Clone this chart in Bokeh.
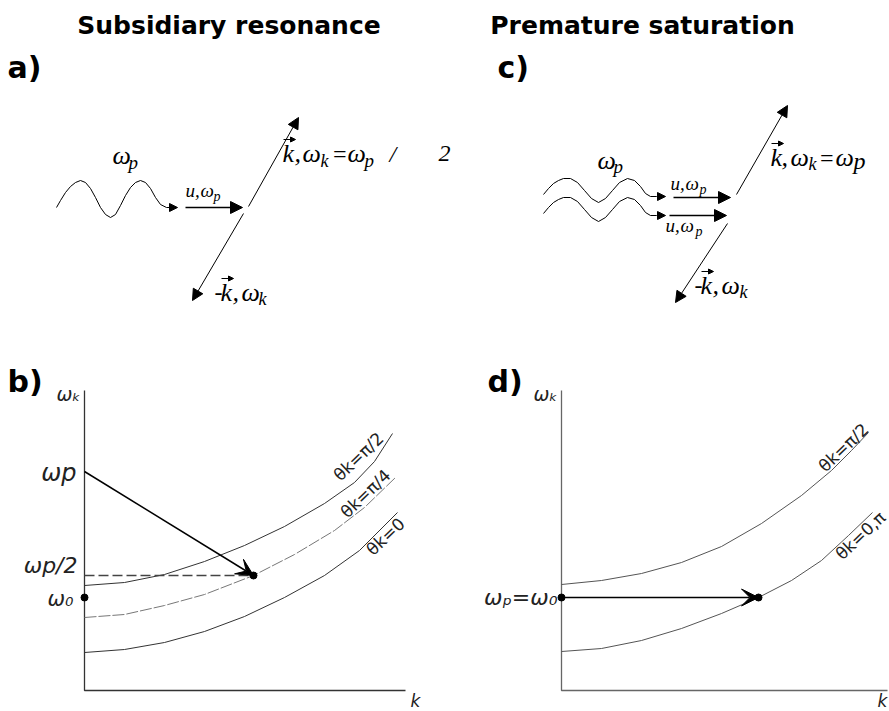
from bokeh.plotting import figure
from bokeh.layouts import gridplot
from bokeh.models import Range1d, Arrow, NormalHead, VeeHead
from bokeh.core.properties import value
from bokeh.embed import file_html
from bokeh.resources import INLINE

# ---------------- data ----------------
titles = ["Subsidiary resonance", "Premature saturation"]
letters = ["a)", "b)", "c)", "d)"]

# panel a: schematic, drawing units (x right, y down)
wave_a_x = [56, 60, 65, 70, 75, 80, 85, 90, 95, 100, 105, 110, 115, 120, 125, 130, 135, 140, 145, 150, 155, 160, 166]
wave_a_y = [207, 200, 192, 186, 182, 180, 182, 188, 197, 207, 214, 217, 214, 205, 195, 187, 182, 180, 182, 188, 197, 204, 207]
arrows_a_x0 = [166, 185, 248, 243]
arrows_a_y0 = [207, 207, 206, 213]
arrows_a_x1 = [177, 242, 298, 192]
arrows_a_y1 = [207, 207, 117, 300]
# label pieces: text, x (left), y (middle), font size px
labels_a = [("ω", 112, 155, 26), ("p", 128, 162, 19),
            ("u,", 185, 190, 19), ("ω", 200, 190, 19), ("p", 213, 196, 14),
            ("k", 282, 153, 26), (",", 294, 153, 26), ("ω", 302, 153, 26), ("k", 320, 160, 18),
            ("=", 331, 153, 24), ("ω", 347, 153, 26), ("p", 364, 160, 19), ("/", 389, 153, 24),
            ("2", 438, 153, 24),
            ("-", 214, 292, 24), ("k", 220, 292, 26), (",", 232, 292, 26), ("ω", 241, 292, 26),
            ("k", 258, 298, 18)]
kvec_a_x0 = [283, 221]
kvec_a_x1 = [295, 233]
kvec_a_y = [139, 278]

# panel c: schematic
wave_c_x = [543, 548, 553, 558, 563, 570, 577, 584, 591, 598, 605, 612, 619, 627, 634, 640, 645, 650, 656]
wave_c1_y = [194, 188, 183, 180, 178, 178, 182, 190, 198, 202, 198, 190, 182, 178, 180, 186, 193, 196, 196]
wave_c2_y = [213, 207, 202, 199, 197, 197, 201, 209, 217, 221, 217, 209, 201, 197, 199, 205, 212, 215, 215]
arrows_c_x0 = [656, 656, 673, 669, 736, 727]
arrows_c_y0 = [196, 215, 197, 215, 194, 223]
arrows_c_x1 = [665, 665, 730, 726, 787, 675]
arrows_c_y1 = [196, 215, 197, 215, 105, 302]
labels_c = [("ω", 597, 160, 26), ("p", 613, 166, 19),
            ("u,", 670, 183, 19), ("ω", 685, 183, 19), ("p", 699, 189, 14),
            ("u,", 665, 225, 19), ("ω", 680, 225, 19), ("p", 695, 231, 14),
            ("k", 770, 157, 26), (",", 781, 157, 26), ("ω", 790, 157, 26), ("k", 808, 163, 18),
            ("=", 818, 157, 24), ("ω", 835, 157, 26), ("p", 853, 160, 24),
            ("-", 694, 285, 24), ("k", 700, 285, 26), (",", 712, 285, 26), ("ω", 721, 285, 26),
            ("k", 739, 291, 18)]
kvec_c_x0 = [771, 701]
kvec_c_x1 = [783, 713]
kvec_c_y = [143, 271]

# panel b: dispersion curves (k, omega)
b_k_pi2 = [0.0, 0.4, 0.8, 1.2, 1.6, 2.0, 2.4, 2.7, 2.9, 3.08]
b_w_pi2 = [1.05, 1.08, 1.16, 1.29, 1.45, 1.64, 1.87, 2.08, 2.29, 2.57]
b_k_pi4 = [0.0, 0.4, 0.8, 1.2, 1.69, 2.1, 2.5, 2.8, 3.11]
b_w_pi4 = [0.73, 0.76, 0.85, 0.96, 1.15, 1.36, 1.60, 1.83, 2.13]
b_k_0 = [0.0, 0.4, 0.8, 1.2, 1.6, 2.0, 2.4, 2.75, 3.13]
b_w_0 = [0.38, 0.41, 0.48, 0.59, 0.74, 0.93, 1.15, 1.40, 1.78]
b_wp, b_wp2, b_w0, b_kres = 2.19, 1.15, 0.93, 1.69
b_curve_labels = ["θk=π/2", "θk=π/4", "θk=0"]
b_curve_label_k = [2.74, 2.81, 3.01]
b_curve_label_w = [2.34, 1.97, 1.54]

# panel d
d_k_pi2 = [0.0, 0.4, 0.8, 1.2, 1.6, 2.0, 2.4, 2.7, 2.9, 3.07]
d_w_pi2 = [1.06, 1.10, 1.17, 1.28, 1.44, 1.67, 1.95, 2.20, 2.40, 2.58]
d_k_0 = [0.0, 0.4, 0.8, 1.2, 1.6, 1.97, 2.3, 2.6, 2.87, 3.11]
d_w_0 = [0.39, 0.42, 0.50, 0.62, 0.77, 0.93, 1.10, 1.30, 1.55, 1.78]
d_w0, d_kres = 0.93, 1.97
d_curve_labels = ["θk=π/2", "θk=0,π"]
d_curve_label_k = [2.82, 2.99]
d_curve_label_w = [2.43, 1.55]

axis_len_k_b = 3.21
axis_len_k_d = 3.26
axis_len_w = 3.0

SERIF = value("Liberation Serif")
SANS = value("DejaVu Sans")


def base_fig(w, h, xr, yr):
    p = figure(width=w, height=h, x_range=Range1d(*xr), y_range=Range1d(*yr),
               output_backend="svg", toolbar_location=None,
               x_axis_location=None, y_axis_location=None, min_border=0,
               outline_line_color=None, background_fill_color="white",
               border_fill_color="white")
    p.xgrid.visible = False
    p.ygrid.visible = False
    return p


def add_arrows(p, x0, y0, x1, y1, widths, sizes):
    for a, b, c, d, lw, s in zip(x0, y0, x1, y1, widths, sizes):
        p.add_layout(Arrow(end=NormalHead(size=s, fill_color="black", line_color="black", line_width=1),
                           x_start=a, y_start=b, x_end=c, y_end=d,
                           line_width=lw, line_color="black"))


def add_pieces(p, items):
    p.text(x=[t[1] for t in items], y=[t[2] for t in items], text=[t[0] for t in items],
           text_font_size=["%dpx" % t[3] for t in items], text_font=SERIF,
           text_font_style="italic", text_align="left", text_baseline="middle",
           text_color="black")


def add_kvec(p, x0s, x1s, ys):
    for a, b, y in zip(x0s, x1s, ys):
        p.add_layout(Arrow(end=NormalHead(size=5, fill_color="black", line_color="black", line_width=1),
                           x_start=a, y_start=y, x_end=b, y_end=y,
                           line_width=1, line_color="black"))


# ---------------- panel a ----------------
pa = base_fig(455, 360, (0, 455), (360, 0))
pa.text(x=[228.5], y=[25], text=[titles[0]], text_font=SANS, text_font_style="bold",
        text_font_size="25px", text_align="center", text_baseline="alphabetic")
pa.text(x=[7], y=[67], text=[letters[0]], text_font=SANS, text_font_style="bold",
        text_font_size="30px", text_align="left", text_baseline="alphabetic")
pa.line(wave_a_x, wave_a_y, line_color="black", line_width=1)
add_arrows(pa, arrows_a_x0, arrows_a_y0, arrows_a_x1, arrows_a_y1,
           [1, 1.5, 1, 1], [8, 12, 11, 11])
add_pieces(pa, labels_a)
add_kvec(pa, kvec_a_x0, kvec_a_x1, kvec_a_y)

# ---------------- panel c ----------------
pc = base_fig(434, 360, (455, 889), (360, 0))
pc.text(x=[642], y=[25], text=[titles[1]], text_font=SANS, text_font_style="bold",
        text_font_size="25px", text_align="center", text_baseline="alphabetic")
pc.text(x=[497], y=[67], text=[letters[2]], text_font=SANS, text_font_style="bold",
        text_font_size="30px", text_align="left", text_baseline="alphabetic")
pc.line(wave_c_x, wave_c1_y, line_color="black", line_width=1)
pc.line(wave_c_x, wave_c2_y, line_color="black", line_width=1)
add_arrows(pc, arrows_c_x0, arrows_c_y0, arrows_c_x1, arrows_c_y1,
           [1, 1, 1.5, 1.5, 1, 1], [8, 8, 12, 12, 11, 11])
add_pieces(pc, labels_c)
add_kvec(pc, kvec_c_x0, kvec_c_x1, kvec_c_y)

# ---------------- panel b ----------------
pb = base_fig(455, 351, (-0.84, 3.71), (-0.21, 3.30))
pb.line([0, 0, axis_len_k_b], [axis_len_w, 0, 0], line_color="#333333", line_width=1.3)
pb.line(b_k_pi2, b_w_pi2, line_color="#333333", line_width=1)
pb.line(b_k_pi4, b_w_pi4, line_color="#777777", line_width=1, line_dash="12 2")
pb.line(b_k_0, b_w_0, line_color="#333333", line_width=1)
pb.line([0, b_kres], [b_wp2, b_wp2], line_color="#444444", line_width=1.5, line_dash="10 4")
pb.add_layout(Arrow(end=VeeHead(size=17, fill_color="black", line_color="black"),
                    x_start=0, y_start=b_wp, x_end=b_kres, y_end=b_wp2,
                    line_width=1.5, line_color="black"))
pb.scatter([b_kres, 0], [b_wp2, b_w0], size=7, color="black")
pb.text(x=[-0.77], y=[3.09], text=[letters[1]], text_font=SANS, text_font_style="bold",
        text_font_size="30px", text_align="left", text_baseline="alphabetic")
pb.text(x=[-0.08, -0.07, -0.11], y=[2.18, 1.25, 0.92], text=["ωp", "ωp/2", "ω₀"],
        text_font=SANS, text_font_style="italic", text_font_size=["24px", "22px", "21px"],
        text_align="right", text_baseline="middle", text_color="#222222")
pb.text(x=[-0.16], y=[2.97], text=["ωₖ"], text_font=SANS, text_font_style="italic",
        text_font_size="19px", text_align="center", text_baseline="middle", text_color="#222222")
pb.text(x=[3.31], y=[-0.10], text=["k"], text_font=SANS, text_font_style="italic",
        text_font_size="17px", text_align="center", text_baseline="middle", text_color="#222222")
pb.text(x=b_curve_label_k, y=b_curve_label_w, text=b_curve_labels, text_font=SANS,
        text_font_size="17px", text_align="center", text_baseline="middle",
        angle=0.76, text_color="#222222")

# ---------------- panel d ----------------
pd_ = base_fig(434, 351, (-1.06, 3.28), (-0.21, 3.30))
pd_.line([0, 0, axis_len_k_d], [axis_len_w, 0, 0], line_color="#666666", line_width=1.3)
pd_.line(d_k_pi2, d_w_pi2, line_color="#555555", line_width=1)
pd_.line(d_k_0, d_w_0, line_color="#555555", line_width=1)
pd_.add_layout(Arrow(end=VeeHead(size=17, fill_color="black", line_color="black"),
                     x_start=0, y_start=d_w0, x_end=d_kres, y_end=d_w0,
                     line_width=1.5, line_color="black"))
pd_.scatter([0, d_kres], [d_w0, d_w0], size=7, color="black")
pd_.text(x=[-0.74], y=[3.09], text=[letters[3]], text_font=SANS, text_font_style="bold",
         text_font_size="30px", text_align="left", text_baseline="alphabetic")
pd_.text(x=[-0.04], y=[0.93], text=["ωₚ=ω₀"], text_font=SANS, text_font_style="italic",
         text_font_size="22px", text_align="right", text_baseline="middle", text_color="#222222")
pd_.text(x=[-0.16], y=[2.97], text=["ωₖ"], text_font=SANS, text_font_style="italic",
         text_font_size="19px", text_align="center", text_baseline="middle", text_color="#222222")
pd_.text(x=[3.21], y=[-0.10], text=["k"], text_font=SANS, text_font_style="italic",
         text_font_size="17px", text_align="center", text_baseline="middle", text_color="#222222")
pd_.text(x=d_curve_label_k, y=d_curve_label_w, text=d_curve_labels, text_font=SANS,
         text_font_size="17px", text_align="center", text_baseline="middle",
         angle=0.76, text_color="#222222")

grid = gridplot([[pa, pc], [pb, pd_]], toolbar_location=None)

with open("out.html", "w") as f:
    f.write(file_html(grid, INLINE, title="Subsidiary resonance / Premature saturation"))
